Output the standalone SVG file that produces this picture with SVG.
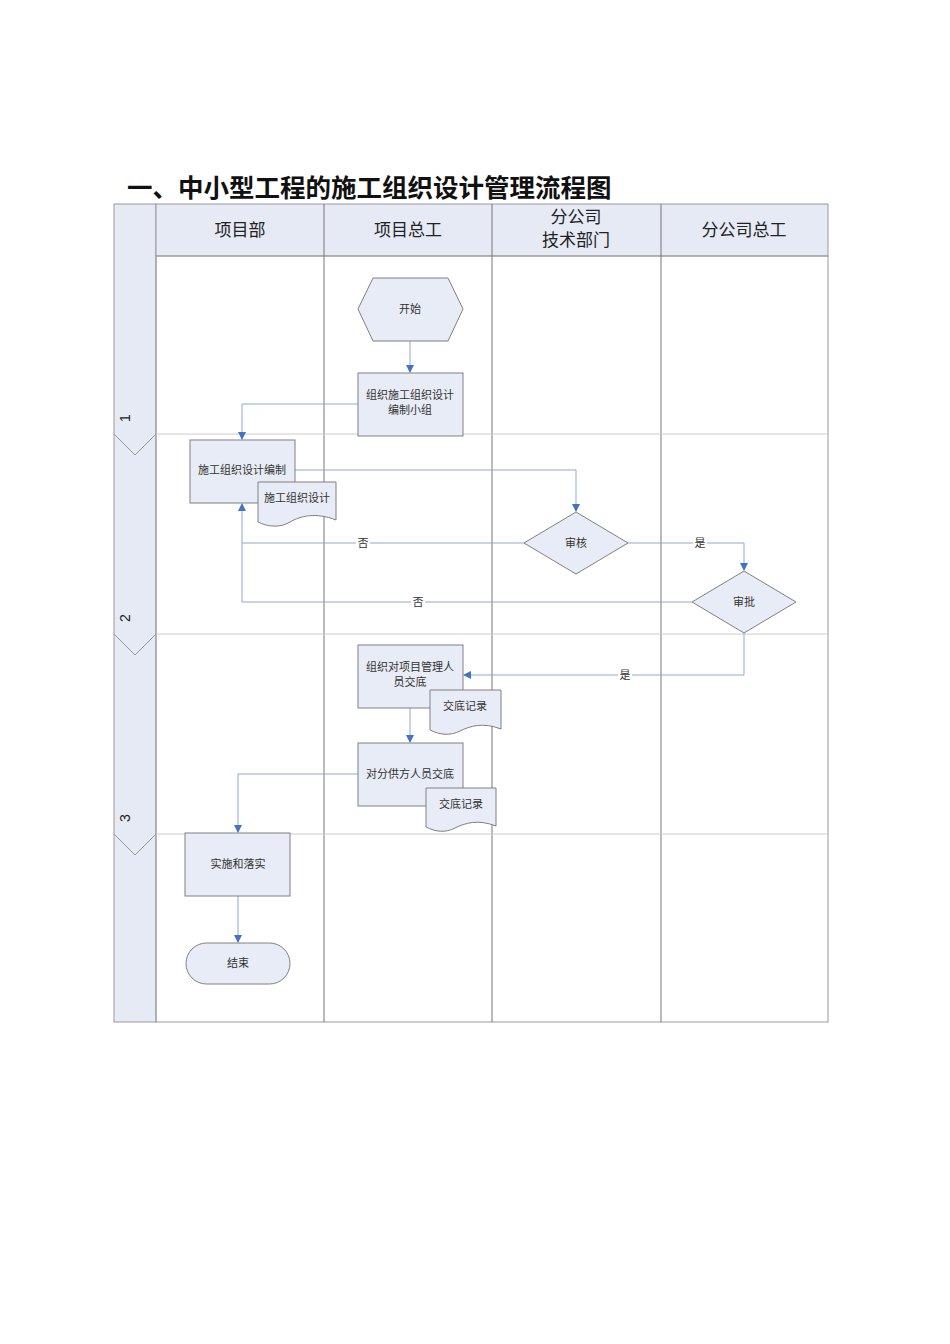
<svg xmlns="http://www.w3.org/2000/svg" width="950" height="1344" viewBox="0 0 950 1344">
<style>
.t{font-family:"Liberation Serif","Noto Sans CJK SC",serif;font-size:11px;fill:#333;text-anchor:middle}
.p{font-family:"Liberation Sans",sans-serif;font-size:14px;fill:#222;text-anchor:middle}
.h{font-family:"Noto Sans CJK SC",sans-serif;font-size:17px;fill:#222;text-anchor:middle}
.n{fill:#e8ecf6;stroke:#808080;stroke-width:1}
.c{fill:none;stroke:#8fa8d0;stroke-width:1}
.g{stroke:#777;stroke-width:1}
</style>
<defs><marker id="a" markerWidth="8" markerHeight="8" refX="7" refY="4" orient="auto" markerUnits="userSpaceOnUse"><path d="M0,0L8,4L0,8Z" fill="#4472c4"/></marker></defs>
<rect width="950" height="1344" fill="#fff"/>
<text x="127" y="197" font-family="Noto Sans CJK SC,sans-serif" font-size="25.5" font-weight="bold" fill="#111">一、中小型工程的施工组织设计管理流程图</text>
<g id="frame">
<rect x="114" y="204" width="42" height="818" fill="#e6eaf5" stroke="#999"/>
<rect x="156" y="204" width="672" height="52" fill="#e6eaf5" stroke="#999"/>
<rect x="156" y="256" width="672" height="766" fill="none" stroke="#999"/>
<line class="g" x1="324" y1="204" x2="324" y2="1022"/>
<line class="g" x1="492" y1="204" x2="492" y2="1022"/>
<line class="g" x1="661" y1="204" x2="661" y2="1022"/>
<line x1="156" y1="434" x2="828" y2="434" stroke="#ccc"/>
<line x1="156" y1="634" x2="828" y2="634" stroke="#ccc"/>
<line x1="156" y1="834" x2="828" y2="834" stroke="#ccc"/>
<polyline points="114,434 135,455 156,434" fill="none" stroke="#999"/>
<polyline points="114,634 135,655 156,634" fill="none" stroke="#999"/>
<polyline points="114,834 135,855 156,834" fill="none" stroke="#999"/>
<text x="240" y="236" class="h">项目部</text>
<text x="408" y="236" class="h">项目总工</text>
<text x="576" y="223" class="h">分公司</text>
<text x="576" y="246" class="h">技术部门</text>
<text x="744" y="236" class="h">分公司总工</text>
<text class="p" transform="translate(125,418) rotate(-90)" dy="5">1</text>
<text class="p" transform="translate(125,618) rotate(-90)" dy="5">2</text>
<text class="p" transform="translate(125,818) rotate(-90)" dy="5">3</text>
</g>
<g id="connectors">
<line class="c" x1="410" y1="341" x2="410" y2="372" marker-end="url(#a)"/>
<polyline class="c" points="358,404 242,404 242,439" marker-end="url(#a)"/>
<polyline class="c" points="295,470 576,470 576,511" marker-end="url(#a)"/>
<polyline class="c" points="524,543 242,543 242,504" marker-end="url(#a)"/>
<polyline class="c" points="628,543 744,543 744,570" marker-end="url(#a)"/>
<polyline class="c" points="692,602 242,602 242,543"/>
<polyline class="c" points="744,633 744,675 464,675" marker-end="url(#a)"/>
<line class="c" x1="410" y1="708" x2="410" y2="742" marker-end="url(#a)"/>
<polyline class="c" points="358,774 238,774 238,832" marker-end="url(#a)"/>
<line class="c" x1="238" y1="896" x2="238" y2="942" marker-end="url(#a)"/>
<rect x="356" y="537" width="14" height="12" fill="#fff"/><text class="t" x="363" y="547">否</text>
<rect x="693" y="537" width="14" height="12" fill="#fff"/><text class="t" x="700" y="547">是</text>
<rect x="411" y="596" width="14" height="12" fill="#fff"/><text class="t" x="418" y="606">否</text>
<rect x="618" y="669" width="14" height="12" fill="#fff"/><text class="t" x="625" y="679">是</text>
</g>
<g id="start"><polygon class="n" points="358,309 373,278 448,278 463,309 448,341 373,341"/><text class="t" x="410" y="313">开始</text></g>
<g id="n1"><rect class="n" x="358" y="373" width="105" height="63"/><text class="t" x="410" y="399">组织施工组织设计</text><text class="t" x="410" y="414">编制小组</text></g>
<g id="n2"><rect class="n" x="190" y="440" width="105" height="63"/><text class="t" x="242" y="474">施工组织设计编制</text></g>
<g id="d1"><path class="n" d="M258,482H336V520C316,512 300,516 290,522C280,528 268,527 258,522Z"/><text class="t" x="297" y="502">施工组织设计</text></g>
<g id="r1"><polygon class="n" points="524,543 576,512 628,543 576,574"/><text class="t" x="576" y="547">审核</text></g>
<g id="r2"><polygon class="n" points="692,602 744,571 796,602 744,633"/><text class="t" x="744" y="606">审批</text></g>
<g id="n3"><rect class="n" x="358" y="645" width="105" height="63"/><text class="t" x="410" y="671">组织对项目管理人</text><text class="t" x="410" y="686">员交底</text></g>
<g id="d2"><path class="n" d="M430,690H501V729C483,722 470,726 460,731C450,736 440,735 430,730Z"/><text class="t" x="465" y="710">交底记录</text></g>
<g id="n4"><rect class="n" x="358" y="743" width="105" height="63"/><text class="t" x="410" y="778">对分供方人员交底</text></g>
<g id="d3"><path class="n" d="M426,788H496V826C478,819 465,823 455,828C445,833 436,832 426,827Z"/><text class="t" x="461" y="808">交底记录</text></g>
<g id="n5"><rect class="n" x="185" y="833" width="105" height="63"/><text class="t" x="238" y="868">实施和落实</text></g>
<g id="end"><rect class="n" x="186" y="943" width="104" height="41" rx="20.5"/><text class="t" x="238" y="967">结束</text></g>
</svg>
